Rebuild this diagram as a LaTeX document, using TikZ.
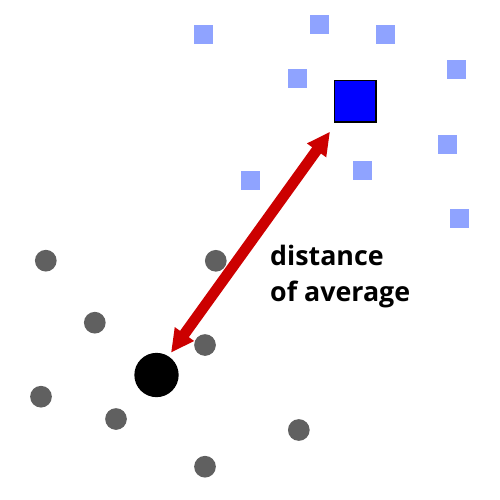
\documentclass[tikz,border=0pt]{standalone}
\usepackage{fontspec}
\setmainfont{Open Sans}
\usetikzlibrary{arrows.meta}
\definecolor{lightsq}{RGB}{143,163,255}
\definecolor{grayc}{RGB}{96,96,96}
\definecolor{arrowred}{RGB}{204,0,0}
\definecolor{meanblue}{RGB}{0,0,255}
\begin{document}
\begin{tikzpicture}[x=1pt,y=-1pt,
  sq/.style={rectangle, fill=lightsq, minimum size=19pt, inner sep=0pt},
  dot/.style={circle, fill=grayc, minimum size=21.7pt, inner sep=0pt},
  bigsq/.style={rectangle, fill=meanblue, draw=black, line width=1.3pt, minimum size=41.5pt, inner sep=0pt},
  bigdot/.style={circle, fill=black, minimum size=44.3pt, inner sep=0pt},
  lbl/.style={anchor=base west, inner sep=0pt, font=\fontsize{26.8}{30}\selectfont\bfseries},
  dbl/.style={line width=10.8pt, draw=arrowred, {Triangle[width=22pt,length=23pt]}-{Triangle[width=22pt,length=23pt]}}]
\useasboundingbox (0,0) rectangle (500,500);
% light blue squares
\node[sq] (s1) at (203.5,34.3) {};
\node[sq] (s2) at (319.3,24.3) {};
\node[sq] (s3) at (385.5,34.3) {};
\node[sq] (s4) at (456.5,69.3) {};
\node[sq] (s5) at (297.5,78.3) {};
\node[sq] (s6) at (447.5,144.3) {};
\node[sq] (s7) at (362.5,170.3) {};
\node[sq] (s8) at (250.5,180.3) {};
\node[sq] (s9) at (459.3,218.3) {};
\node[bigsq] (msq) at (355.3,101.3) {};
% gray circles
\node[dot] (c1) at (45.8,260.7) {};
\node[dot] (c2) at (215.8,260.8) {};
\node[dot] (c3) at (94.8,322.7) {};
\node[dot] (c4) at (205,345) {};
\node[dot] (c5) at (41,396.7) {};
\node[dot] (c6) at (116,419) {};
\node[dot] (c7) at (298.8,430) {};
\node[dot] (c8) at (205,466.7) {};
\node[bigdot] (mdot) at (156.5,375) {};
% arrow
\coordinate (tipA) at (330,131.7);
\coordinate (tipB) at (171,352.7);
\draw[dbl] (tipB) -- (tipA);
% label
\node[lbl] (t1) at (270,265) {distance};
\node[lbl] (t2) at (270,301) {of average};
\end{tikzpicture}
\end{document}
